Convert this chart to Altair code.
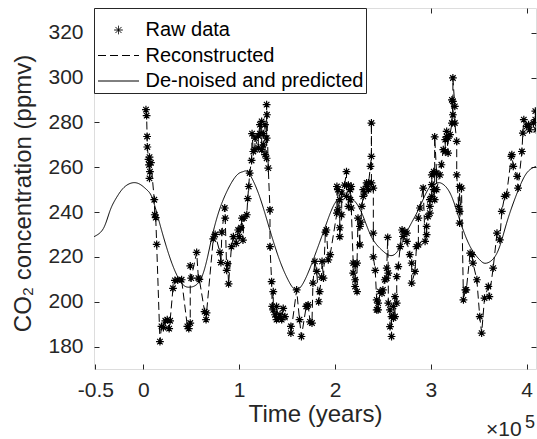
import altair as alt
import pandas as pd

FONT = "Liberation Sans"
INK = "#262626"

# ---- Raw data: time in kyr (thousands of years), CO2 in ppmv ----
raw_time = [
    2.8, 3.5, 4.0, 4.2, 5.5, 6.0, 6.5, 6.5, 7.0, 8.0,
    11.5, 12.0, 13.0, 14.0, 17.4, 19.0, 21.0, 23.0, 25.0, 27.0,
    28.0, 31.0, 33.0, 36.0, 40.0, 46.0, 47.5, 49.0, 49.0, 50.0,
    55.7, 57.5, 58.5, 64.0, 65.5, 66.0, 73.0, 75.0, 80.0, 81.0,
    82.0, 85.0, 85.5, 87.0, 88.0, 89.0, 92.0, 94.0, 97.0, 99.0,
    100.0, 102.0, 103.0, 104.0, 105.0, 108.0, 109.0, 110.0, 111.0, 113.0,
    113.5, 114.8, 116.5, 116.5, 120.0, 120.0, 121.7, 121.7, 123.5, 123.5,
    125.2, 125.2, 127.0, 127.0, 128.7, 128.7, 128.7, 129.0, 130.4, 132.2,
    132.2, 133.9, 134.5, 135.6, 135.6, 137.4, 139.0, 139.0, 141.0, 142.6,
    144.4, 146.0, 147.8, 154.0, 154.0, 160.0, 163.0, 165.0, 170.0, 171.0,
    172.0, 174.0, 176.0, 177.0, 179.0, 181.0, 183.0, 184.0, 186.0, 186.5,
    188.0, 190.0, 191.0, 193.0, 195.0, 202.0, 202.0, 203.0, 203.0, 205.0,
    205.0, 205.0, 207.0, 207.0, 210.0, 212.0, 212.0, 214.0, 214.0, 216.0,
    216.0, 217.0, 217.0, 219.0, 219.0, 221.0, 221.0, 221.0, 223.0, 223.0,
    224.0, 226.0, 226.0, 227.0, 228.0, 229.5, 229.5, 231.0, 233.0, 233.0,
    235.0, 235.0, 237.0, 238.0, 238.0, 238.0, 240.0, 240.0, 240.0, 242.0,
    243.5, 243.5, 245.0, 245.0, 247.0, 249.0, 250.0, 252.0, 254.0, 254.0,
    255.0, 255.6, 255.6, 257.4, 257.4, 259.0, 259.0, 261.0, 261.0, 262.6,
    262.6, 264.4, 264.4, 266.0, 268.0, 270.0, 271.0, 273.0, 275.0, 275.0,
    278.0, 280.0, 280.0, 283.5, 285.0, 287.0, 287.0, 288.6, 292.0, 294.0,
    295.6, 295.6, 297.0, 299.0, 299.0, 299.0, 301.0, 301.0, 301.0, 303.0,
    303.0, 304.0, 304.0, 304.0, 306.0, 306.0, 309.5, 311.0, 313.0, 315.0,
    315.0, 316.5, 316.5, 318.0, 318.0, 320.0, 322.0, 322.0, 323.0, 323.0,
    323.0, 325.0, 325.0, 327.0, 327.0, 329.0, 330.0, 330.0, 330.0, 332.0,
    334.0, 336.0, 337.0, 341.0, 343.0, 344.0, 348.0, 351.0, 353.0, 356.0,
    360.0, 361.0, 365.0, 369.0, 372.0, 374.0, 377.0, 379.0, 384.0, 384.5,
    386.0, 390.0, 391.0, 395.0, 396.0, 397.0, 400.0, 402.0, 403.0, 407.0,
    409.0, 409.0, 410.0,
]
raw_co2 = [
    285.7, 283.0, 273.7, 269.0, 263.5, 261.0, 264.5, 255.0, 258.0, 262.0,
    245.5, 238.8, 237.5, 225.6, 182.2, 189.0, 188.5, 191.5, 192.0, 188.0,
    191.5, 206.0, 209.5, 209.7, 209.8, 189.0, 188.0, 190.5, 216.0, 210.5,
    222.0, 210.5, 210.0, 195.6, 192.0, 195.0, 228.0, 230.0, 222.0, 217.5,
    231.0, 241.8, 237.3, 214.0, 217.0, 208.0, 224.6, 229.0, 226.0, 232.0,
    229.0, 233.0, 237.3, 227.5, 237.3, 238.8, 246.0, 251.4, 257.4, 263.0,
    275.0, 267.0, 267.8, 273.0, 268.6, 274.0, 279.0, 275.0, 280.4, 267.8,
    270.0, 275.0, 279.0, 265.6, 264.0, 273.0, 287.9, 283.4, 259.6, 241.0,
    224.6, 209.0, 197.9, 204.5, 196.4, 194.2, 192.0, 197.9, 192.9, 194.2,
    192.0, 197.0, 193.4, 189.0, 186.0, 205.3, 192.0, 184.5, 197.9, 198.0,
    198.6, 191.0, 190.5, 208.3, 218.0, 213.5, 200.0, 204.5, 211.0, 218.0,
    210.5, 231.0, 232.0, 218.7, 221.0, 239.5, 251.4, 250.0, 241.0, 245.5,
    233.0, 229.0, 238.8, 248.5, 252.0, 258.0, 247.0, 252.0, 242.5, 250.0,
    245.5, 251.4, 241.8, 217.2, 212.8, 216.5, 209.8, 206.8, 204.5, 217.2,
    237.3, 225.4, 233.6, 235.5, 242.5, 247.0, 250.0, 248.5, 251.4, 253.0,
    250.0, 253.0, 260.4, 264.8, 279.7, 253.0, 250.7, 230.6, 220.0, 214.0,
    200.8, 196.4, 199.4, 196.4, 204.5, 203.8, 205.3, 209.8, 210.5, 215.0,
    228.7, 212.8, 199.4, 196.4, 188.9, 184.5, 193.4, 192.7, 197.9, 193.4,
    202.3, 199.4, 211.2, 215.7, 224.6, 232.0, 229.1, 231.3, 230.6, 226.9,
    221.0, 217.2, 208.3, 213.5, 224.6, 225.4, 237.3, 241.8, 250.7, 226.9,
    229.9, 233.6, 238.0, 239.5, 242.5, 245.5, 247.0, 252.2, 256.6, 258.0,
    250.0, 245.5, 257.4, 273.5, 257.4, 250.0, 256.6, 261.1, 267.8, 267.0,
    272.3, 273.7, 276.0, 266.3, 273.0, 274.5, 279.7, 290.0, 283.4, 289.4,
    299.8, 287.1, 279.7, 271.5, 256.6, 242.5, 251.4, 240.3, 235.1, 250.7,
    200.8, 205.3, 205.3, 221.7, 221.0, 217.2, 209.8, 193.4, 186.0, 201.6,
    206.8, 202.3, 215.0, 230.6, 227.6, 240.3, 247.0, 247.7, 264.8, 265.6,
    260.4, 255.9, 250.7, 267.0, 275.2, 281.2, 278.2, 279.0, 276.7, 279.7,
    281.2, 285.0, 276.7,
]

# ---- De-noised and predicted curve ----
smooth_time = [
    -51.5, -41.7, -34.7, -27.7, -19.0, -7.0, 3.5, 10.0, 19.0, 30.0,
    40.0, 49.0, 61.0, 71.0, 82.0, 95.7, 104.0, 110.0, 120.0, 130.0,
    141.0, 151.0, 160.0, 170.0, 181.0, 190.0, 200.0, 210.0, 219.0, 228.0,
    238.0, 249.0, 257.5, 266.0, 276.0, 287.0, 297.0, 304.0, 310.0, 320.0,
    330.0, 341.0, 351.0, 358.0, 369.0, 379.0, 390.0, 400.0, 410.0,
]
smooth_co2 = [
    229.0, 232.6, 240.6, 246.6, 251.4, 253.0, 250.0, 245.5, 232.0, 217.0,
    208.3, 206.5, 211.0, 227.6, 244.0, 255.5, 258.0, 257.4, 248.5, 235.0,
    220.0, 209.8, 205.3, 211.0, 223.0, 233.6, 244.0, 247.0, 245.5, 239.5,
    229.0, 223.0, 220.6, 223.0, 232.0, 241.0, 250.0, 252.5, 253.0, 248.5,
    236.6, 224.6, 218.7, 217.2, 221.7, 235.0, 248.5, 257.4, 260.4,
]

series_names = ["Raw data", "Reconstructed", "De-noised and predicted"]
x_ticks = [-50, 0, 100, 200, 300, 400]
y_ticks = [180, 200, 220, 240, 260, 280, 300, 320]

raw_df = pd.DataFrame({"t": raw_time, "co2": raw_co2})
raw_df["idx"] = range(len(raw_df))
raw_df["series"] = series_names[0]
rec_df = raw_df.copy()
rec_df["series"] = series_names[1]
smooth_df = pd.DataFrame({"t": smooth_time, "co2": smooth_co2})
smooth_df["series"] = series_names[2]

ASTERISK = ("M-0.344,0L0.344,0M0,-0.344L0,0.344"
            "M-0.243,-0.243L0.243,0.243M-0.243,0.243L0.243,-0.243")
STROKE = "M-1.64,0L1.64,0"

shape_scale = alt.Scale(domain=series_names, range=[ASTERISK, STROKE, STROKE])
dash_scale = alt.Scale(domain=series_names, range=[[1, 0], [8, 4], [1, 0]])

legend = alt.Legend(
    title=" ", titleFontSize=1, titlePadding=6,
    orient="none", legendX=0, legendY=0,
    padding=2, rowPadding=2.5, symbolOffset=9.5, labelOffset=14,
    symbolSize=625, symbolStrokeWidth=1, symbolStrokeColor="black",
    symbolFillColor="transparent",
    fillColor="white", strokeColor=INK,
    labelFont=FONT, labelFontSize=20, labelColor="black", labelLimit=400,
)

xscale = alt.Scale(domain=[-51.4, 409.7], nice=False, zero=False)
yscale = alt.Scale(domain=[170, 331], nice=False, zero=False)

common_axis = dict(grid=False, domain=False, tickSize=5, offset=-5,
                   tickColor=INK, labelFont=FONT, labelFontSize=21,
                   labelColor=INK, titleFont=FONT, titleFontSize=24,
                   titleFontWeight="normal", titleColor=INK)

x_axis_main = alt.Axis(values=x_ticks, labelExpr="datum.value/100",
                       title="Time (years)", labelPadding=10,
                       titleY=57, titleBaseline="alphabetic",
                       **common_axis)
y_axis_main = alt.Axis(values=y_ticks, title="CO₂ concentration (ppmv)",
                       labelPadding=11, titlePadding=12, titleY=185,
                       **common_axis)
x_axis_top = alt.Axis(values=x_ticks, orient="top", labels=False, title=None,
                      **common_axis)
y_axis_right = alt.Axis(values=y_ticks, orient="right", labels=False,
                        title=None, **common_axis)

smooth_line = alt.Chart(smooth_df).mark_line(
    color="black", strokeWidth=1, interpolate="natural", clip=True
).encode(
    x=alt.X("t:Q", scale=xscale, axis=x_axis_main),
    y=alt.Y("co2:Q", scale=yscale, axis=y_axis_main),
    strokeDash=alt.StrokeDash("series:N", scale=dash_scale, legend=legend),
)

rec_line = alt.Chart(rec_df).mark_line(
    color="black", strokeWidth=1, clip=True
).encode(
    x=alt.X("t:Q", scale=xscale, axis=None),
    y=alt.Y("co2:Q", scale=yscale, axis=None),
    order="idx:Q",
    strokeDash=alt.StrokeDash("series:N", scale=dash_scale, legend=legend),
)

points = alt.Chart(raw_df).mark_point(
    filled=False, color="black", size=515, strokeWidth=1.2, opacity=1, clip=True
).encode(
    x=alt.X("t:Q", scale=xscale, axis=x_axis_top),
    y=alt.Y("co2:Q", scale=yscale, axis=y_axis_right),
    shape=alt.Shape("series:N", scale=shape_scale, legend=legend),
)

exp_df = pd.DataFrame({"a": [0]})
exp_base = alt.Chart(exp_df).mark_text(
    font=FONT, fontSize=21, color=INK, align="left", baseline="alphabetic"
).encode(x=alt.value(392), y=alt.value(428), text=alt.value("×10"))
exp_sup = alt.Chart(exp_df).mark_text(
    font=FONT, fontSize=18, color=INK, align="left", baseline="alphabetic"
).encode(x=alt.value(431), y=alt.value(420), text=alt.value("5"))

chart = alt.layer(smooth_line, rec_line, points, exp_base, exp_sup).resolve_axis(
    x="independent", y="independent"
).properties(
    width=442, height=361,
    autosize=alt.AutoSizeParams(type="none"),
    padding={"left": 94, "top": 8, "right": 1, "bottom": 70},
).configure_view(stroke=INK, strokeWidth=1).configure(background="white")

chart.save("out.html", embed_options={"renderer": "svg", "actions": False})
